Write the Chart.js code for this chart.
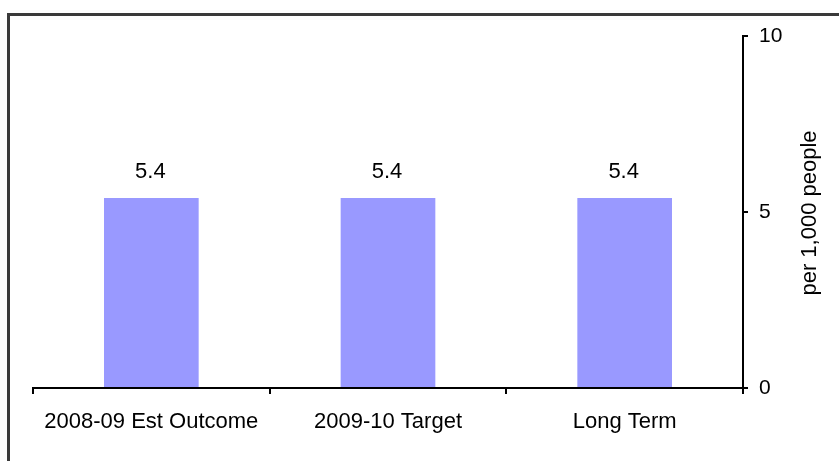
<!DOCTYPE html>
<html>
<head>
<meta charset="utf-8">
<script src="https://cdn.jsdelivr.net/npm/chart.js@4"></script>
<style>
  body { margin: 0; background: #fff; }
  .wrap { position: relative; width: 839px; height: 461px; overflow: hidden; }
  .frame { position: absolute; left: 7px; top: 13px; width: 900px; height: 520px; border: 3px solid #3a3a3a; box-sizing: border-box; }
  canvas { position: absolute; left: 0; top: 0; }
</style>
</head>
<body>
<div class="wrap">
  <div class="frame"></div>
  <canvas id="rateChart" width="839" height="461"></canvas>
</div>
<script>
// data
const categories = ['2008-09 Est Outcome', '2009-10 Target', 'Long Term'];
const rates = [5.4, 5.4, 5.4];
const axisTitle = 'per 1,000 people';

const fontFamily = '"Liberation Sans", Arial, sans-serif';

// value labels above the bars + rotated axis title
const labelPlugin = {
    id: 'labelPlugin',
    afterDatasetsDraw(chart) {
        const c = chart.ctx;
        const meta = chart.getDatasetMeta(0);
        c.save();
        c.fillStyle = '#000';
        c.font = '22px ' + fontFamily;
        c.textAlign = 'center';
        c.textBaseline = 'middle';
        meta.data.forEach((bar, i) => {
            c.fillText(rates[i].toFixed(1), bar.x - 1, bar.y - 26);
        });
        const area = chart.chartArea;
        c.translate(810, (area.top + area.bottom) / 2 + 1);
        c.rotate(-Math.PI / 2);
        c.fillText(axisTitle, 0, 0);
        c.restore();
    }
};

const ctx = document.getElementById('rateChart').getContext('2d');
const rateChart = new Chart(ctx, {
    type: 'bar',
    data: {
        labels: categories,
        datasets: [{
            data: rates,
            backgroundColor: '#9999ff',
            borderWidth: 0,
            categoryPercentage: 1,
            barPercentage: 0.4
        }]
    },
    options: {
        responsive: false,
        animation: false,
        layout: {
            padding: { left: 33, top: 36, right: 0, bottom: 0 }
        },
        plugins: {
            legend: { display: false },
            tooltip: { enabled: false }
        },
        scales: {
            x: {
                grid: {
                    offset: true,
                    drawOnChartArea: false,
                    drawTicks: true,
                    tickLength: 6,
                    color: '#000',
                    lineWidth: 2
                },
                border: { color: '#000', width: 2 },
                ticks: {
                    color: '#000',
                    padding: 15,
                    maxRotation: 0,
                    font: { family: fontFamily, size: 22 }
                },
                afterFit(scale) { scale.height = 73; }
            },
            y: {
                position: 'right',
                min: 0,
                max: 10,
                grid: {
                    drawOnChartArea: false,
                    drawTicks: true,
                    tickLength: 5,
                    color: '#000',
                    lineWidth: 2
                },
                border: { color: '#000', width: 2 },
                ticks: {
                    stepSize: 5,
                    color: '#000',
                    padding: 11,
                    font: { family: fontFamily, size: 21 }
                },
                afterFit(scale) { scale.width = 96; }
            }
        }
    },
    plugins: [labelPlugin]
});
</script>
</body>
</html>
